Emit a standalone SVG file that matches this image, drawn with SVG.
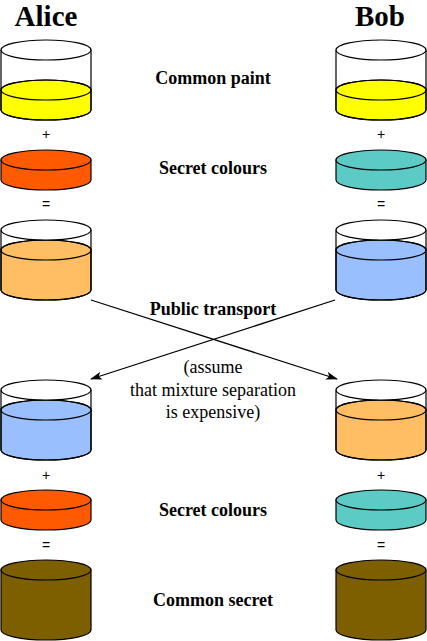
<svg xmlns="http://www.w3.org/2000/svg" xmlns:xlink="http://www.w3.org/1999/xlink" width="427" height="641" viewBox="0 0 427 641">
<style>
.shape{stroke:#000;stroke-width:1.2}
text{fill:#000}
.title{font-family:"Liberation Serif",serif;font-weight:bold;font-size:29px;text-anchor:middle}
.label{font-family:"Liberation Serif",serif;font-weight:bold;font-size:18px;text-anchor:middle}
.note{font-family:"Liberation Serif",serif;font-size:18px;text-anchor:middle}
.op{font-family:"Liberation Sans",sans-serif;font-size:14px;text-anchor:middle}
.conn{stroke:#000;stroke-width:1.3;fill:none}
</style>
<defs>
<marker id="arrow" viewBox="0 0 12 8" refX="11" refY="4" markerWidth="12" markerHeight="8" markerUnits="userSpaceOnUse" orient="auto">
<path d="M0,0 L12,4 L0,8 L3,4 Z" fill="#000"/>
</marker>
<g id="glass-low" class="shape">
<path d="M-45,40 A45,10 0 0 1 45,40 L45,60 A45,10 0 0 1 -45,60 Z" fill="currentColor"/>
<ellipse cx="0" cy="40" rx="45" ry="10" fill="none"/>
<path d="M-45,0 L-45,60 A45,10 0 0 0 45,60 L45,0" fill="none"/>
<ellipse cx="0" cy="0" rx="45" ry="10" fill="#fff"/>
</g>
<g id="glass-high" class="shape">
<path d="M-45,20 A45,10 0 0 1 45,20 L45,60 A45,10 0 0 1 -45,60 Z" fill="currentColor"/>
<ellipse cx="0" cy="20" rx="45" ry="10" fill="none"/>
<path d="M-45,0 L-45,60 A45,10 0 0 0 45,60 L45,0" fill="none"/>
<ellipse cx="0" cy="0" rx="45" ry="10" fill="#fff"/>
</g>
<g id="disc" class="shape">
<path d="M-45,0 L-45,20 A45,10 0 0 0 45,20 L45,0 Z" fill="currentColor"/>
<ellipse cx="0" cy="0" rx="45" ry="10" fill="currentColor"/>
</g>
<g id="glass-full" class="shape">
<path d="M-45,0 L-45,60 A45,10 0 0 0 45,60 L45,0 Z" fill="currentColor"/>
<ellipse cx="0" cy="0" rx="45" ry="10" fill="currentColor"/>
</g>
</defs>
<rect width="427" height="641" fill="#fff"/>

<g id="titles">
<text class="title" x="46" y="26">Alice</text>
<text class="title" x="380" y="26">Bob</text>
</g>

<g id="alice-common"><use xlink:href="#glass-low" transform="translate(46,50)" style="color:#ffff00"/></g>
<g id="bob-common"><use xlink:href="#glass-low" transform="translate(381,50)" style="color:#ffff00"/></g>
<g id="alice-secret"><use xlink:href="#disc" transform="translate(46,160)" style="color:#ff5a00"/></g>
<g id="bob-secret"><use xlink:href="#disc" transform="translate(381,160)" style="color:#5ccbc6"/></g>
<g id="alice-mix"><use xlink:href="#glass-high" transform="translate(46,230)" style="color:#ffbe63"/></g>
<g id="bob-mix"><use xlink:href="#glass-high" transform="translate(381,230)" style="color:#99bfff"/></g>
<g id="alice-received"><use xlink:href="#glass-high" transform="translate(46,390)" style="color:#99bfff"/></g>
<g id="bob-received"><use xlink:href="#glass-high" transform="translate(381,390)" style="color:#ffbe63"/></g>
<g id="alice-secret2"><use xlink:href="#disc" transform="translate(46,500)" style="color:#ff5a00"/></g>
<g id="bob-secret2"><use xlink:href="#disc" transform="translate(381,500)" style="color:#5ccbc6"/></g>
<g id="alice-final"><use xlink:href="#glass-full" transform="translate(46,570)" style="color:#7d5f00"/></g>
<g id="bob-final"><use xlink:href="#glass-full" transform="translate(381,570)" style="color:#7d5f00"/></g>

<g id="operators">
<text class="op" x="46" y="139">+</text>
<text class="op" x="381" y="139">+</text>
<text class="op" x="46" y="209">=</text>
<text class="op" x="381" y="209">=</text>
<text class="op" x="46" y="480">+</text>
<text class="op" x="381" y="480">+</text>
<text class="op" x="46" y="550">=</text>
<text class="op" x="381" y="550">=</text>
</g>

<g id="labels">
<text class="label" x="213" y="84">Common paint</text>
<text class="label" x="213" y="174">Secret colours</text>
<text class="label" x="213" y="315">Public transport</text>
<text class="note" x="213" y="373">(assume</text>
<text class="note" x="213" y="396">that mixture separation</text>
<text class="note" x="213" y="418">is expensive)</text>
<text class="label" x="213" y="516">Secret colours</text>
<text class="label" x="213" y="606">Common secret</text>
</g>

<g id="connectors">
<line class="conn" x1="91" y1="300" x2="337" y2="379" marker-end="url(#arrow)"/>
<line class="conn" x1="335" y1="300" x2="91" y2="379" marker-end="url(#arrow)"/>
</g>
</svg>
